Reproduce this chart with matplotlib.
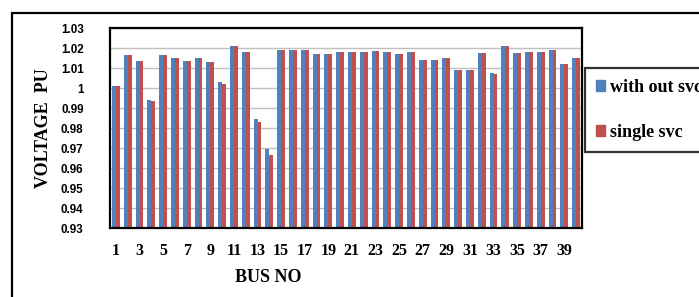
import matplotlib
matplotlib.use("Agg")
import matplotlib.pyplot as plt
from matplotlib.patches import Rectangle, Patch
import numpy as np

# ----------------------------
# Data
# ----------------------------
bus_no = list(range(1, 41))
without_svc = [1.001, 1.0163, 1.0137, 0.9942, 1.0163, 1.0152, 1.0133, 1.0148, 1.013, 1.0032,
               1.0212, 1.0182, 0.9845, 0.9697, 1.0188, 1.0188, 1.0188, 1.0172, 1.0172, 1.018,
               1.018, 1.018, 1.0185, 1.018, 1.0172, 1.018, 1.014, 1.014, 1.0152, 1.009,
               1.009, 1.0175, 1.0075, 1.0212, 1.0175, 1.018, 1.018, 1.0188, 1.012, 1.0152]
single_svc = [1.001, 1.0163, 1.0137, 0.9933, 1.0163, 1.0152, 1.0133, 1.0148, 1.013, 1.0022,
              1.0212, 1.0182, 0.9828, 0.9663, 1.0188, 1.0188, 1.0188, 1.0172, 1.0172, 1.018,
              1.018, 1.018, 1.0185, 1.018, 1.0172, 1.018, 1.014, 1.014, 1.0152, 1.009,
              1.009, 1.0175, 1.007, 1.0212, 1.0175, 1.018, 1.018, 1.0188, 1.012, 1.0152]
y_ticks = [0.93, 0.94, 0.95, 0.96, 0.97, 0.98, 0.99, 1.0, 1.01, 1.02, 1.03]
y_tick_labels = ["0.93", "0.94", "0.95", "0.96", "0.97", "0.98", "0.99", "1", "1.01", "1.02", "1.03"]
series_names = ["with out svc", "single svc"]

BLUE = "#4F81BD"
RED = "#C0504D"
W, H = 699, 297

fig = plt.figure(figsize=(W / 100, H / 100), dpi=100)
fig.patch.set_facecolor("white")

# outer chart border (runs off the right and bottom edges)
fig.patches.append(Rectangle((12 / W, -0.2), 1.0, 1.2 - 13 / H, transform=fig.transFigure,
                             fill=False, ec="black", lw=1.6))

ax = fig.add_axes([110 / W, 1 - 228 / H, 472 / W, 200 / H])

x = np.arange(len(bus_no))
bw = 1 / 3
ax.bar(x - bw / 2, np.array(without_svc) - 0.93, bottom=0.93, width=bw, color=BLUE)
ax.bar(x + bw / 2, np.array(single_svc) - 0.93, bottom=0.93, width=bw, color=RED)

ax.set_xlim(-0.5, len(bus_no) - 0.5)
ax.set_ylim(0.93, 1.03)
ax.set_yticks(y_ticks)
ax.set_yticklabels(y_tick_labels)
ax.set_xticks(x[::2])
ax.set_xticklabels([str(b) for b in bus_no[::2]])
ax.yaxis.grid(True, color="#BFBFBF", lw=1.0)
ax.set_axisbelow(True)
for s in ax.spines.values():
    s.set_color("black")
    s.set_linewidth(1.6)

ax.tick_params(axis="both", length=0)
ax.tick_params(axis="y", pad=19)
ax.tick_params(axis="x", pad=11)
for lbl in ax.get_yticklabels():
    lbl.set_fontfamily("Liberation Sans")
    lbl.set_fontweight("bold")
    lbl.set_fontsize(8.4)
for lbl in ax.get_xticklabels():
    lbl.set_fontfamily("Liberation Serif")
    lbl.set_fontweight("bold")
    lbl.set_fontsize(11.5)

fig.text(44 / W, 1 - 128 / H, "VOLTAGE  PU", rotation=90, ha="center", va="center",
         fontfamily="Liberation Serif", fontweight="bold", fontsize=13)
fig.text(268 / W, 1 - 278 / H, "BUS NO", ha="center", va="center",
         fontfamily="Liberation Serif", fontweight="bold", fontsize=13)

handles = [Patch(color=BLUE), Patch(color=RED)]
leg = fig.legend(handles, series_names, loc="upper left", bbox_to_anchor=(585 / W, 1 - 68 / H),
                 frameon=True, fancybox=False, handlelength=0.5, handleheight=0.5,
                 handletextpad=0.3, labelspacing=1.55, borderpad=0.6, borderaxespad=0,
                 prop={"family": "Liberation Serif", "weight": "bold", "size": 13})
leg.get_frame().set_edgecolor("black")
leg.get_frame().set_linewidth(1.6)

fig.savefig("out.png", dpi=100)
